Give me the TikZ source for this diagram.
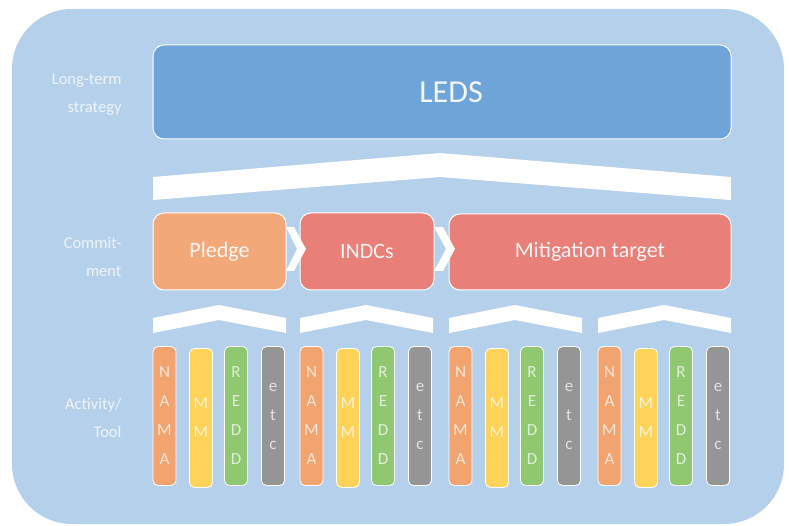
\documentclass[tikz,border=0pt]{standalone}
\usepackage{fontspec}
\setmainfont{Carlito}
\definecolor{bgblue}{HTML}{B5D0EB}
\definecolor{ledsblue}{HTML}{6FA4D9}
\definecolor{pledgeor}{HTML}{F2A878}
\definecolor{indred}{HTML}{E88079}
\definecolor{namaor}{HTML}{F2A470}
\definecolor{mmyel}{HTML}{FFD35A}
\definecolor{reddgr}{HTML}{90C771}
\definecolor{etcgr}{HTML}{959595}
\definecolor{labelcol}{HTML}{EEF4FB}
\tikzset{
  bigbox/.style={draw=white, line width=1pt, rounded corners=11pt, inner sep=0pt, text=white, text opacity=0.92},
  lbl/.style={align=right, anchor=east, text=labelcol, font=\fontsize{16.5}{28}\selectfont},
  bar/.style={draw=white, line width=0.8pt, rounded corners=5pt, minimum width=23pt, minimum height=139pt, inner sep=0pt, align=center, text=white, text opacity=0.72, font=\fontsize{17}{29}\selectfont},
  band/.style={fill=white}
}
\begin{document}
\begin{tikzpicture}[x=1pt,y=-1pt]
\useasboundingbox (0,0) rectangle (789,526);
\fill[bgblue, rounded corners=60pt] (12,9) rectangle (784,524);

% labels
\node[lbl] (l1) at (125,95) {Long-term\\strategy};
\node[lbl] (l2) at (125,257) {Commit-\\ment};
\node[lbl] (l3) at (125,418) {Activity/\\Tool};

% LEDS
\node[bigbox, fill=ledsblue, minimum width=578pt, minimum height=94pt, font=\fontsize{32}{38}\selectfont] (leds) at (442,92) {\hspace*{18pt}LEDS};

% big band
\fill[band] (153,177) -- (440,153) -- (731,177) -- (731,200) -- (440,177) -- (153,200) -- cycle;

% commitment boxes
\node[bigbox, fill=pledgeor, minimum width=133pt, minimum height=77pt, font=\fontsize{22}{26}\selectfont] (pledge) at (219.5,251.5) {Pledge};
\node[bigbox, fill=indred, minimum width=134pt, minimum height=77pt, font=\fontsize{22}{26}\selectfont] (indcs) at (367,251.5) {INDCs};
\node[bigbox, fill=indred, minimum width=282pt, minimum height=76pt, font=\fontsize{22}{26}\selectfont] (mitig) at (590,252) {Mitigation target};

% chevrons between boxes
\fill[band] (286,227) -- (294,227) -- (306,249) -- (294,271) -- (286,271) -- (297,249) -- cycle;
\fill[band] (434,227) -- (443,227) -- (455,249) -- (443,271) -- (434,271) -- (446,249) -- cycle;

% small bands and bars
\foreach \s [count=\i] in {153,300,449,598} {
  \fill[band] (\s,318) -- (\s+66,305) -- (\s+133,318) -- (\s+133,333) -- (\s+66,320) -- (\s,333) -- cycle;
  \node[bar, fill=namaor] (nama\i) at (\s+11.5,416) {N\\A\\M\\A};
  \node[bar, fill=mmyel] (mm\i) at (\s+48,418) {M\\M};
  \node[bar, fill=reddgr] (redd\i) at (\s+83,416) {R\\E\\D\\D};
  \node[bar, fill=etcgr] (etc\i) at (\s+120,416) {e\\t\\c};
}
\end{tikzpicture}
\end{document}
